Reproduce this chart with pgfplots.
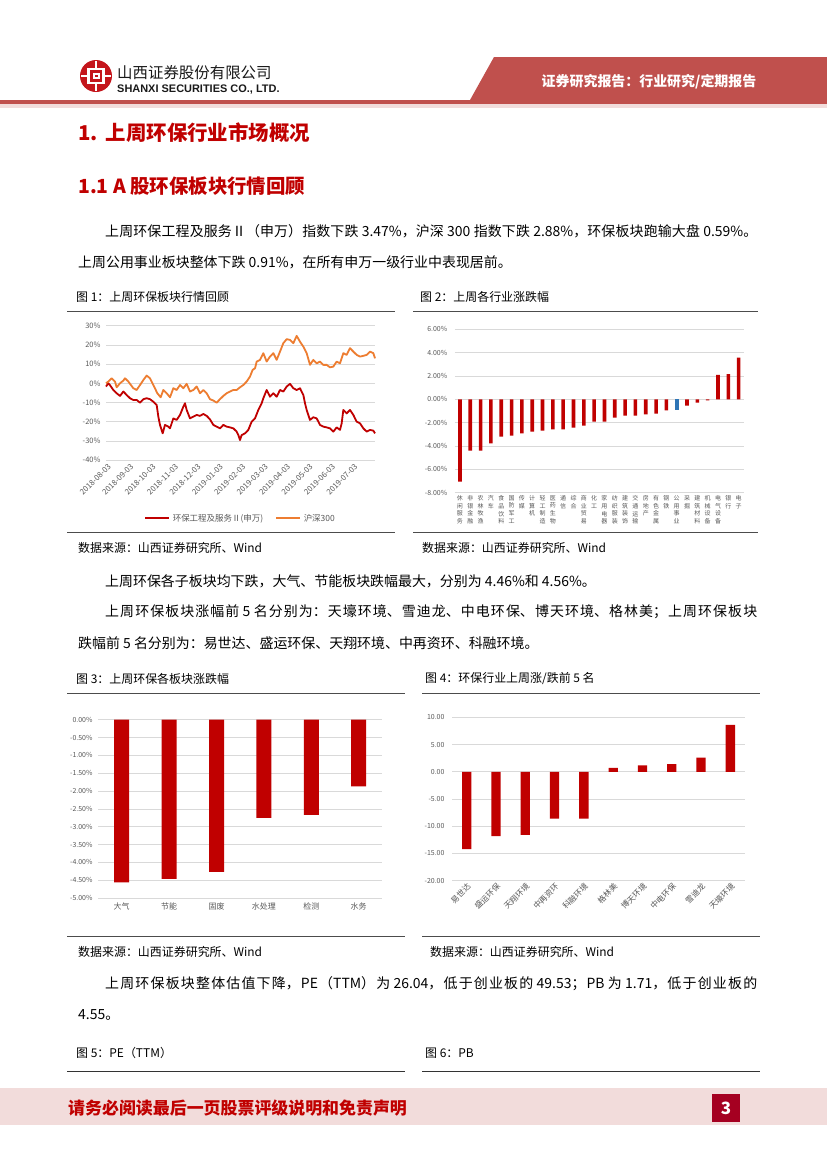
\documentclass[border=0pt]{standalone}
\usepackage{fontspec}
\setmainfont{Noto Sans CJK SC}
\newfontfamily\arial{Liberation Sans}
\usepackage{pgfplots}
\pgfplotsset{compat=1.18}
\XeTeXlinebreaklocale "zh"
\XeTeXlinebreakskip=0pt plus 1fil minus 0.4pt
\definecolor{hdr}{HTML}{C0504D}
\definecolor{tred}{HTML}{C00000}
\definecolor{lred}{HTML}{C00000}
\definecolor{lorange}{HTML}{ED7D31}
\definecolor{bblue}{HTML}{2E75B6}
\definecolor{pinkband}{HTML}{F2DCDB}
\definecolor{pagebox}{HTML}{A50021}
\definecolor{gridc}{HTML}{D9D9D9}
\definecolor{tickc}{HTML}{595959}
\definecolor{logored}{HTML}{C4161C}
\newcommand\bodyf{\fontsize{14}{16}\selectfont}
\newcommand\capf{\fontsize{12}{14}\selectfont}
\newcommand\tickf{\fontsize{7}{8.5}\selectfont}
\newcommand\jline[1]{\parfillskip=0pt\parindent=0pt\bodyf #1\par}
\pgfplotsset{
  pagechart/.style={
    scale only axis,
    axis line style={draw=none},
    major tick style={draw=none},
    ymajorgrids,
    grid style={draw=gridc, line width=0.6bp},
    tick label style={font=\tickf, text=tickc},
    /pgf/number format/assume math mode=true,
    clip=false,
  }
}
\begin{document}
\begin{tikzpicture}
\begin{scope}[x=1bp,y=-1bp]
\fill[white] (0,0) rectangle (827,1169);
% header
\fill[hdr] (494,57) -- (827,57) -- (827,100) -- (470,100) -- cycle;
\fill[hdr] (0,100) rectangle (827,104);
\fill[pinkband] (0,104) rectangle (827,107.5);
\node[anchor=center, text=white, inner sep=0] at (649,82) {\fontsize{14}{16}\selectfont\bfseries 证券研究报告：行业研究/定期报告};
% logo
\fill[logored] (96,76) circle (16);
\draw[white, line width=2.4] (88.5,69) rectangle (103.5,83);
\fill[white] (92.5,73) rectangle (99.5,79);
\fill[logored] (94.5,75) rectangle (97.5,77);
\draw[white, line width=2] (96,61) -- (96,69);
\draw[white, line width=2] (96,83) -- (96,91);
\draw[white, line width=1.6] (81,76) -- (88.5,76);
\draw[white, line width=1.6] (103.5,76) -- (111,76);
\node[anchor=west, inner sep=0, text=black!90] at (117,73) {\fontsize{15.5}{17}\selectfont 山西证券股份有限公司};
\node[anchor=west, inner sep=0, text=black!90] at (117,89.5) {\arial\fontsize{11}{12}\selectfont\bfseries SHANXI SECURITIES CO., LTD.};
% headings
\node[anchor=west, inner sep=0, text=tred] at (78,133) {\fontsize{20.5}{22}\selectfont\bfseries 1.\hspace{8bp}上周环保行业市场概况};
\node[anchor=west, inner sep=0, text=tred] at (78,186) {\fontsize{19.5}{21}\selectfont\bfseries 1.1 A 股环保板块行情回顾};
% body
\node[anchor=west, inner sep=0, text width=652bp] at (105,231) {\jline{上周环保工程及服务Ⅱ（申万）指数下跌 3.47\%，沪深 300 指数下跌 2.88\%，环保板块跑输大盘 0.59\%。}};
\node[anchor=west, inner sep=0] at (78,262) {\bodyf 上周公用事业板块整体下跌 0.91\%，在所有申万一级行业中表现居前。};
\node[anchor=west, inner sep=0] at (105,581) {\bodyf 上周环保各子板块均下跌，大气、节能板块跌幅最大，分别为 4.46\%和 4.56\%。};
\node[anchor=west, inner sep=0, text width=652bp] at (105,612) {\jline{上周环保板块涨幅前 5 名分别为：天壕环境、雪迪龙、中电环保、博天环境、格林美；上周环保板块}};
\node[anchor=west, inner sep=0] at (78,643) {\bodyf 跌幅前 5 名分别为：易世达、盛运环保、天翔环境、中再资环、科融环境。};
\node[anchor=west, inner sep=0, text width=652bp] at (105,984) {\jline{上周环保板块整体估值下降，PE（TTM）为 26.04，低于创业板的 49.53；PB 为 1.71，低于创业板的}};
\node[anchor=west, inner sep=0] at (78,1015) {\bodyf 4.55。};
% captions and rules
\node[anchor=west, inner sep=0] at (76,297) {\capf 图 1：上周环保板块行情回顾};
\node[anchor=west, inner sep=0] at (420,297) {\capf 图 2：上周各行业涨跌幅};
\draw[black!70, line width=0.9] (67,311.5) -- (395,311.5);
\draw[black!70, line width=0.9] (413,311.5) -- (758,311.5);
\draw[black!70, line width=0.9] (67,532) -- (395,532);
\draw[black!70, line width=0.9] (413,532) -- (758,532);
\node[anchor=west, inner sep=0] at (78,548) {\capf 数据来源：山西证券研究所、Wind};
\node[anchor=west, inner sep=0] at (422,548) {\capf 数据来源：山西证券研究所、Wind};
\node[anchor=west, inner sep=0] at (76,679) {\capf 图 3：上周环保各板块涨跌幅};
\node[anchor=west, inner sep=0] at (425,679) {\capf 图 4：环保行业上周涨/跌前 5 名};
\draw[black!70, line width=0.9] (67,693) -- (405,693);
\draw[black!70, line width=0.9] (422,693) -- (760,693);
\draw[black!70, line width=0.9] (67,936) -- (405,936);
\draw[black!70, line width=0.9] (422,936) -- (760,936);
\node[anchor=west, inner sep=0] at (78,952) {\capf 数据来源：山西证券研究所、Wind};
\node[anchor=west, inner sep=0] at (430,952) {\capf 数据来源：山西证券研究所、Wind};
\node[anchor=west, inner sep=0] at (76,1053) {\capf 图 5：PE（TTM）};
\node[anchor=west, inner sep=0] at (425,1053) {\capf 图 6：PB};
\draw[black!80, line width=0.9] (67,1071) -- (405,1071);
\draw[black!80, line width=0.9] (422,1071) -- (760,1071);
% footer
\fill[pinkband] (0,1088) rectangle (827,1125);
\node[anchor=west, inner sep=0, text=tred] at (68,1108) {\fontsize{17}{19}\selectfont\bfseries 请务必阅读最后一页股票评级说明和免责声明};
\fill[pagebox] (712,1094) rectangle (740,1122);
\node[text=white, inner sep=0] at (726,1108) {\fontsize{17}{19}\selectfont\bfseries 3};
\end{scope}

% ---------- Chart 1 ----------
\begin{axis}[pagechart,
  at={(106bp,-460bp)}, anchor=south west,
  width=269bp, height=134.3bp,
  xmin=10.8, xmax=91.5, ymin=-40, ymax=30,
  ytick={-40,-30,...,30},
  yticklabel={\pgfmathprintnumber{\tick}\%},
  yticklabel style={xshift=-2bp, font=\fontsize{7.5}{9}\selectfont},
  xtick={10.8,17.53,24.25,30.98,37.7,44.43,51.15,57.88,64.6,71.33,78.05,84.78},
  xticklabels={2018-08-03,2018-09-03,2018-10-03,2018-11-03,2018-12-03,2019-01-03,2019-02-03,2019-03-03,2019-04-03,2019-05-03,2019-06-03,2019-07-03},
  xticklabel style={rotate=45, anchor=north east, inner sep=1pt, yshift=-2bp, font=\fontsize{7.8}{9}\selectfont},
  legend style={at={(0.5,-0.37)}, anchor=north, draw=none, fill=none, font=\fontsize{8.5}{10}\selectfont, text=tickc,
    legend columns=2, /tikz/every even column/.append style={column sep=10bp}},
  legend image code/.code={\draw[#1, line width=2.6bp] (0bp,0bp) -- (24bp,0bp);},
]
\addplot[lred, line width=1.8bp, line join=round] coordinates {
(10.8,-1.7)(11.5,0)(12.0,-1.0)(13.0,-3.5)(14.0,-5.2)(15.0,-6.6)(16.0,-4.3)(17.0,-6.1)(18.0,-7.8)(19.0,-8.7)
(20.0,-8.7)(21.0,-10.1)(22.0,-8.3)(23.0,-7.8)(24.0,-8.3)(25.0,-9.6)(26.0,-11.3)(26.5,-17.4)(27.0,-21.7)(27.8,-26.1)
(28.5,-21.7)(29.5,-22.6)(30.0,-23.5)(31.0,-18.3)(32.0,-19.1)(33.0,-16.5)(34.0,-12.2)(34.5,-10.4)(35.0,-13.9)(36.0,-18.3)
(37.0,-17.4)(38.0,-16.5)(39.0,-17.0)(40.0,-16.0)(41.0,-17.0)(42.0,-18.8)(43.0,-21.7)(44.0,-22.6)(45.0,-23.5)(46.0,-21.7)
(47.0,-22.6)(48.0,-23.0)(49.0,-23.5)(50.0,-25.2)(50.5,-27.0)(51.0,-29.6)(51.5,-27.0)(52.5,-26.1)(53.5,-24.3)(54.5,-20.0)
(55.5,-18.3)(56.5,-13.9)(57.5,-10.4)(58.0,-7.8)(59.0,-3.5)(60.0,-7.0)(61.0,-5.2)(62.0,-7.0)(63.0,-3.5)(64.0,-4.3)
(65.0,-1.7)(66.0,-0.3)(67.0,-2.6)(68.0,-3.5)(69.0,-2.6)(70.0,-6.1)(70.5,-10.4)(71.0,-13.9)(72.0,-19.1)(73.0,-17.7)
(74.0,-18.3)(75.0,-21.7)(76.0,-22.6)(77.0,-23.0)(78.0,-23.5)(79.0,-25.2)(80.0,-23.0)(81.0,-24.3)(81.5,-20.9)(82.0,-13.9)
(83.0,-15.7)(84.0,-13.9)(85.0,-16.5)(86.0,-20.0)(87.0,-20.9)(88.0,-23.5)(89.0,-25.2)(90.0,-24.3)(91.0,-24.7)(91.5,-26.1)
};
\addlegendentry{环保工程及服务Ⅱ(申万)}
\addplot[lorange, line width=1.8bp, line join=round] coordinates {
(10.8,0)(11.5,0.9)(12.5,2.6)(13.5,0.9)(14.0,-2.1)(15.0,0)(16.0,1.4)(16.5,2.6)(17.5,0.9)(19.0,-2.6)
(20.0,-3.5)(21.0,-0.9)(22.0,1.7)(23.0,4.0)(24.0,2.6)(25.0,-0.9)(26.2,-5.2)(27.2,-7.3)(28.0,-3.5)(29.0,-5.2)
(30.0,-7.3)(31.0,-2.6)(32.0,-3.5)(33.0,-0.9)(34.0,-2.6)(35.0,-0.3)(36.0,-4.3)(37.0,-3.5)(38.0,-1.7)(39.0,-5.2)
(40.0,-3.5)(41.0,-5.2)(42.0,-8.3)(43.0,-9.0)(44.0,-10.1)(45.0,-8.3)(46.0,-6.6)(47.0,-5.2)(48.0,-4.3)(49.0,-3.5)
(50.0,-3.5)(51.0,-2.1)(52.0,-0.9)(53.0,0.9)(54.0,3.5)(54.8,7.0)(55.5,7.8)(56.0,11.3)(57.0,12.2)(58.0,15.7)
(59.0,11.3)(60.0,13.9)(61.0,15.7)(62.0,12.2)(63.0,16.5)(64.0,20.9)(65.0,23.0)(66.0,22.6)(67.0,20.9)(68.0,24.7)
(69.0,21.7)(70.0,19.1)(71.0,15.7)(72.0,9.6)(73.0,12.2)(74.0,10.4)(75.0,11.3)(76.0,9.6)(77.0,9.6)(78.0,8.3)
(79.0,8.7)(80.0,11.3)(81.0,10.4)(82.0,15.7)(83.0,14.8)(84.0,18.3)(85.0,16.5)(86.0,14.8)(87.0,13.9)(88.0,14.3)
(89.0,14.8)(90.0,16.5)(91.0,15.7)(91.5,13.0)
};
\addlegendentry{沪深300}
\end{axis}

% ---------- Chart 2 ----------
\begin{axis}[pagechart,
  at={(454.8bp,-492.7bp)}, anchor=south west,
  width=289bp, height=163.4bp,
  xmin=0.5, xmax=28.5, ymin=-8, ymax=6,
  ytick={-8,-6,...,6},
  yticklabel={\pgfmathprintnumber[fixed, fixed zerofill, precision=2]{\tick}\%},
  yticklabel style={xshift=-4bp},
  xtick={1,...,28},
  xticklabels={{休\\闲\\服\\务},{非\\银\\金\\融},{农\\林\\牧\\渔},{汽\\车},{食\\品\\饮\\料},{国\\防\\军\\工},{传\\媒},{计\\算\\机},{轻\\工\\制\\造},{医\\药\\生\\物},{通\\信},{综\\合},{商\\业\\贸\\易},{化\\工},{家\\用\\电\\器},{纺\\织\\服\\装},{建\\筑\\装\\饰},{交\\通\\运\\输},{房\\地\\产},{有\\色\\金\\属},{钢\\铁},{公\\用\\事\\业},{采\\掘},{建\\筑\\材\\料},{机\\械\\设\\备},{电\\气\\设\\备},{银\\行},{电\\子}},
  xticklabel style={align=center, anchor=north, inner sep=0.5pt, yshift=-2bp, font=\fontsize{6}{7.8}\selectfont},
]
\addplot[ybar, bar width=3.6bp, bar shift=0pt, fill=lred, draw=none] coordinates {
(1,-7.05)(2,-4.40)(3,-4.40)(4,-3.77)(5,-3.20)(6,-3.11)(7,-2.91)(8,-2.77)(9,-2.69)(10,-2.57)
(11,-2.57)(12,-2.43)(13,-2.26)(14,-1.91)(15,-1.91)(16,-1.57)(17,-1.40)(18,-1.40)(19,-1.29)(20,-1.23)
(21,-0.95)(23,-0.54)(24,-0.29)(25,-0.09)(26,2.09)(27,2.17)(28,3.57)
};
\addplot[ybar, bar width=3.6bp, bar shift=0pt, fill=bblue, draw=none] coordinates {(22,-0.91)};
\end{axis}

% ---------- Chart 3 ----------
\begin{axis}[pagechart,
  at={(98bp,-898bp)}, anchor=south west,
  width=284.4bp, height=178.3bp,
  xmin=-0.5, xmax=5.5, ymin=-5, ymax=0,
  ytick={-5,-4.5,...,0},
  yticklabel={\pgfmathprintnumber[fixed, fixed zerofill, precision=2]{\tick}\%},
  yticklabel style={xshift=-2bp},
  xtick={0,...,5},
  xticklabels={大气,节能,固废,水处理,检测,水务},
  xticklabel style={font=\fontsize{8}{9}\selectfont, yshift=-1bp},
]
\addplot[ybar, bar width=15bp, bar shift=0pt, fill=lred, draw=none] coordinates {
(0,-4.56)(1,-4.46)(2,-4.27)(3,-2.75)(4,-2.67)(5,-1.87)
};
\end{axis}

% ---------- Chart 4 ----------
\begin{axis}[pagechart,
  at={(452bp,-880.7bp)}, anchor=south west,
  width=293bp, height=163.4bp,
  xmin=-0.5, xmax=9.5, ymin=-20, ymax=10,
  ytick={-20,-15,...,10},
  yticklabel={\pgfmathprintnumber[fixed, fixed zerofill, precision=2]{\tick}},
  yticklabel style={xshift=-4bp},
  xtick={0,...,9},
  xticklabels={易世达,盛运环保,天翔环境,中再资环,科融环境,格林美,博天环境,中电环保,雪迪龙,天壕环境},
  xticklabel style={rotate=45, anchor=north east, inner sep=1pt, font=\fontsize{8}{9}\selectfont},
]
\addplot[ybar, bar width=9.3bp, bar shift=0pt, fill=lred, draw=none] coordinates {
(0,-14.2)(1,-11.8)(2,-11.6)(3,-8.6)(4,-8.6)(5,0.7)(6,1.2)(7,1.4)(8,2.6)(9,8.6)
};
\end{axis}
\end{tikzpicture}
\end{document}
